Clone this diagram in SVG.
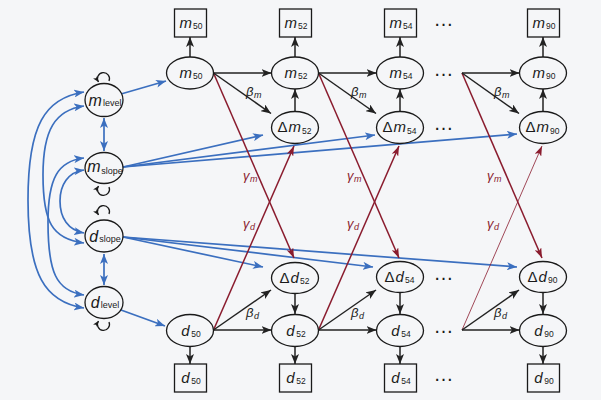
<svg xmlns="http://www.w3.org/2000/svg" width="601" height="400" viewBox="0 0 601 400">
<defs>
<style>
.bg{fill:#f5f6f8}
.nd{fill:#f5f6f8;stroke:#1a1a1a;stroke-width:1.3}
.t{font-family:"Liberation Sans",Arial,sans-serif;font-size:15px;fill:#1a1a1a}
.tl{font-size:16px}
.it{font-style:italic}
.sub{font-size:8.5px;font-style:normal}
.subl{font-size:9px;font-style:normal}
.k{stroke:#222;stroke-width:1.5;fill:none;marker-end:url(#ak)}
.b{stroke:#3b6fbf;stroke-width:1.7;fill:none;marker-end:url(#ab)}
.b2{stroke:#3b6fbf;stroke-width:1.7;fill:none;marker-end:url(#ab);marker-start:url(#ab)}
.r{stroke:#8a1c2e;stroke-width:1.5;fill:none;marker-end:url(#ar)}
.rt{stroke:#8a1c2e;stroke-width:0.8;fill:none;marker-end:url(#ar)}
.lp{stroke:#1a1a1a;stroke-width:1.3;fill:none;marker-end:url(#al)}
.g{font-family:"Liberation Sans",Arial,sans-serif;font-size:13px;font-style:italic;fill:#1a1a1a}
.gs{font-size:9px}
.gr{fill:#8a1c2e}
.dots{font-family:"Liberation Sans",Arial,sans-serif;font-size:20px;fill:#1a1a1a}
</style>
<marker id="ak" viewBox="0 0 10 8" refX="10" refY="4" markerWidth="10" markerHeight="8" orient="auto-start-reverse" markerUnits="userSpaceOnUse"><path d="M0,0 L10,4 L0,8 L2.5,4 z" fill="#222"/></marker>
<marker id="ab" viewBox="0 0 10 8" refX="10" refY="4" markerWidth="10" markerHeight="8" orient="auto-start-reverse" markerUnits="userSpaceOnUse"><path d="M0,0 L10,4 L0,8 L2.5,4 z" fill="#3b6fbf"/></marker>
<marker id="ar" viewBox="0 0 10 7" refX="10" refY="3.5" markerWidth="10" markerHeight="7" orient="auto-start-reverse" markerUnits="userSpaceOnUse"><path d="M0,0 L10,3.5 L0,7 L2.5,3.5 z" fill="#8a1c2e"/></marker>
<marker id="al" viewBox="0 0 6 5" refX="6" refY="2.5" markerWidth="6" markerHeight="5" orient="auto" markerUnits="userSpaceOnUse"><path d="M0,0 L6,2.5 L0,5 L1.5,2.5 z" fill="#1a1a1a"/></marker>
</defs>
<rect class="bg" x="0" y="0" width="601" height="400"/>

<g id="connectors">
<!-- self loops -->
<path class="lp" d="M109,81 A6,6 0 1 0 98.5,82"/>
<path class="lp" d="M109,187 A6,6 0 1 1 98.5,186"/>
<path class="lp" d="M109,214 A6,6 0 1 0 98.5,215"/>
<path class="lp" d="M109,322 A6,6 0 1 1 98.5,321"/>
<!-- vertical double arrows -->
<path class="b2" d="M104,118 L104,151"/>
<path class="b2" d="M104,254 L104,285"/>
<!-- curved covariances -->
<path class="b2" d="M84,92 C45,98 28,125 28,200 C28,275 45,302 84,308"/>
<path class="b2" d="M84,106 C55,110 43,130 43,175 C43,222 52,239 84,243"/>
<path class="b2" d="M84,158 C58,161 48,178 48,222 C48,272 56,291 84,295"/>
<path class="b2" d="M84,170 C68,172 60,185 60,201 C60,218 68,230 84,233"/>
<!-- blue factor loadings -->
<path class="b" d="M121,94 L166,81"/>
<path class="b" d="M123,167 L263,135"/>
<path class="b" d="M123,167 L375,135"/>
<path class="b" d="M123,167 L517,134"/>
<path class="b" d="M123,237 L263,267"/>
<path class="b" d="M123,237 L373,267"/>
<path class="b" d="M123,237 L517,267"/>
<path class="b" d="M121,310 L165,326"/>
<!-- red cross-lagged -->
<path class="r" d="M213.5,73 L294,258"/>
<path class="r" d="M213.5,330 L294,146"/>
<path class="r" d="M318.5,73 L399,258"/>
<path class="r" d="M318.5,330 L399,146"/>
<path class="r" d="M462,73 L542,258"/>
<path class="rt" d="M462,330 L542,146"/>
<!-- black: latent to observed -->
<path class="k" d="M190,57 L190,37"/>
<path class="k" d="M295,57 L295,37"/>
<path class="k" d="M400,57 L400,37"/>
<path class="k" d="M543,57 L543,37"/>
<path class="k" d="M190,346 L190,364"/>
<path class="k" d="M295,346 L295,364"/>
<path class="k" d="M400,346 L400,364"/>
<path class="k" d="M543,346 L543,364"/>
<!-- change to level -->
<path class="k" d="M295,111.5 L295,89"/>
<path class="k" d="M400,111.5 L400,89"/>
<path class="k" d="M543,111.5 L543,89"/>
<path class="k" d="M295,293 L295,314"/>
<path class="k" d="M400,293 L400,314"/>
<path class="k" d="M543,293 L543,314"/>
<!-- autoregressive -->
<path class="k" d="M213.5,73 L271.5,73"/>
<path class="k" d="M318.5,73 L376.5,73"/>
<path class="k" d="M462,73 L519.5,73"/>
<path class="k" d="M213.5,330 L271.5,330"/>
<path class="k" d="M318.5,330 L376.5,330"/>
<path class="k" d="M462,330 L519.5,330"/>
<!-- beta -->
<path class="k" d="M213.5,73 L271,113.5"/>
<path class="k" d="M318.5,73 L376,113.5"/>
<path class="k" d="M462,73 L519,113.5"/>
<path class="k" d="M213.5,330 L271,290"/>
<path class="k" d="M318.5,330 L376,290"/>
<path class="k" d="M462,330 L519,290"/>
<!-- coefficient labels -->
<text class="g" x="246" y="96">β<tspan class="gs" dx="0.5" dy="2">m</tspan></text>
<text class="g" x="351" y="96">β<tspan class="gs" dx="0.5" dy="2">m</tspan></text>
<text class="g" x="494" y="96">β<tspan class="gs" dx="0.5" dy="2">m</tspan></text>
<text class="g" x="246" y="317">β<tspan class="gs" dx="0.5" dy="2">d</tspan></text>
<text class="g" x="351" y="317">β<tspan class="gs" dx="0.5" dy="2">d</tspan></text>
<text class="g" x="494" y="317">β<tspan class="gs" dx="0.5" dy="2">d</tspan></text>
<text class="g gr" x="243" y="180">γ<tspan class="gs" dx="0.5" dy="2">m</tspan></text>
<text class="g gr" x="347" y="180">γ<tspan class="gs" dx="0.5" dy="2">m</tspan></text>
<text class="g gr" x="487" y="180">γ<tspan class="gs" dx="0.5" dy="2">m</tspan></text>
<text class="g gr" x="243" y="228">γ<tspan class="gs" dx="0.5" dy="2">d</tspan></text>
<text class="g gr" x="347" y="228">γ<tspan class="gs" dx="0.5" dy="2">d</tspan></text>
<text class="g gr" x="487" y="228">γ<tspan class="gs" dx="0.5" dy="2">d</tspan></text>
</g>

<!-- latent growth factors -->
<g id="m_level"><ellipse class="nd" cx="104" cy="100" rx="19" ry="16.5"/><text class="t tl" x="105" y="105.5" text-anchor="middle"><tspan class="it">m</tspan><tspan class="subl" dx="1" dy="0.5">level</tspan></text></g>
<g id="m_slope"><ellipse class="nd" cx="104" cy="168" rx="19" ry="15.5"/><text class="t tl" x="105" y="172" text-anchor="middle"><tspan class="it">m</tspan><tspan class="subl" dx="0.5" dy="2">slope</tspan></text></g>
<g id="d_slope"><ellipse class="nd" cx="104" cy="236" rx="19" ry="16"/><text class="t tl" x="105" y="241.5" text-anchor="middle"><tspan class="it">d</tspan><tspan class="subl" dx="1" dy="0">slope</tspan></text></g>
<g id="d_level"><ellipse class="nd" cx="104" cy="302.5" rx="19" ry="16"/><text class="t tl" x="105" y="308" text-anchor="middle"><tspan class="it">d</tspan><tspan class="subl" dx="1" dy="0">level</tspan></text></g>

<!-- observed m -->
<g id="obs_m50"><rect class="nd" x="174.5" y="9" width="32" height="28"/><text class="t" x="191" y="27.5" text-anchor="middle"><tspan class="it">m</tspan><tspan class="sub" dx="1" dy="1">50</tspan></text></g>
<g id="obs_m52"><rect class="nd" x="279.5" y="9" width="32" height="28"/><text class="t" x="296" y="27.5" text-anchor="middle"><tspan class="it">m</tspan><tspan class="sub" dx="1" dy="1">52</tspan></text></g>
<g id="obs_m54"><rect class="nd" x="384.5" y="9" width="32" height="28"/><text class="t" x="401" y="27.5" text-anchor="middle"><tspan class="it">m</tspan><tspan class="sub" dx="1" dy="1">54</tspan></text></g>
<g id="obs_m90"><rect class="nd" x="527.5" y="9" width="32" height="28"/><text class="t" x="544" y="27.5" text-anchor="middle"><tspan class="it">m</tspan><tspan class="sub" dx="1" dy="1">90</tspan></text></g>

<!-- latent m -->
<g id="m50"><ellipse class="nd" cx="190" cy="73" rx="23.5" ry="16"/><text class="t" x="191" y="77.5" text-anchor="middle"><tspan class="it">m</tspan><tspan class="sub" dx="1" dy="1.5">50</tspan></text></g>
<g id="m52"><ellipse class="nd" cx="295" cy="73" rx="23.5" ry="16"/><text class="t" x="296" y="77.5" text-anchor="middle"><tspan class="it">m</tspan><tspan class="sub" dx="1" dy="1.5">52</tspan></text></g>
<g id="m54"><ellipse class="nd" cx="400" cy="73" rx="23.5" ry="16"/><text class="t" x="401" y="77.5" text-anchor="middle"><tspan class="it">m</tspan><tspan class="sub" dx="1" dy="1.5">54</tspan></text></g>
<g id="m90"><ellipse class="nd" cx="543" cy="73" rx="23.5" ry="16"/><text class="t" x="544" y="77.5" text-anchor="middle"><tspan class="it">m</tspan><tspan class="sub" dx="1" dy="1.5">90</tspan></text></g>

<!-- change m -->
<g id="dm52"><ellipse class="nd" cx="295" cy="127.5" rx="23.5" ry="16"/><text class="t" x="294.5" y="132" text-anchor="middle">Δ<tspan class="it" dx="1">m</tspan><tspan class="sub" dx="1" dy="1.5">52</tspan></text></g>
<g id="dm54"><ellipse class="nd" cx="400" cy="127.5" rx="23.5" ry="16"/><text class="t" x="399.5" y="132" text-anchor="middle">Δ<tspan class="it" dx="1">m</tspan><tspan class="sub" dx="1" dy="1.5">54</tspan></text></g>
<g id="dm90"><ellipse class="nd" cx="543" cy="127.5" rx="23.5" ry="16"/><text class="t" x="542.5" y="132" text-anchor="middle">Δ<tspan class="it" dx="1">m</tspan><tspan class="sub" dx="1" dy="1.5">90</tspan></text></g>

<!-- change d -->
<g id="dd52"><ellipse class="nd" cx="295" cy="278" rx="23.5" ry="15.5"/><text class="t" x="294.5" y="283" text-anchor="middle">Δ<tspan class="it" dx="1">d</tspan><tspan class="sub" dx="1" dy="1">52</tspan></text></g>
<g id="dd54"><ellipse class="nd" cx="400" cy="277" rx="23.5" ry="15.5"/><text class="t" x="399.5" y="282" text-anchor="middle">Δ<tspan class="it" dx="1">d</tspan><tspan class="sub" dx="1" dy="1">54</tspan></text></g>
<g id="dd90"><ellipse class="nd" cx="543" cy="277" rx="23.5" ry="15.5"/><text class="t" x="542.5" y="282" text-anchor="middle">Δ<tspan class="it" dx="1">d</tspan><tspan class="sub" dx="1" dy="1">90</tspan></text></g>

<!-- latent d -->
<g id="d50"><ellipse class="nd" cx="190" cy="330.5" rx="23.5" ry="16"/><text class="t" x="191" y="335.5" text-anchor="middle"><tspan class="it">d</tspan><tspan class="sub" dx="1.5" dy="1">50</tspan></text></g>
<g id="d52"><ellipse class="nd" cx="295" cy="330.5" rx="23.5" ry="16"/><text class="t" x="296" y="335.5" text-anchor="middle"><tspan class="it">d</tspan><tspan class="sub" dx="1.5" dy="1">52</tspan></text></g>
<g id="d54"><ellipse class="nd" cx="400" cy="330.5" rx="23.5" ry="16"/><text class="t" x="401" y="335.5" text-anchor="middle"><tspan class="it">d</tspan><tspan class="sub" dx="1.5" dy="1">54</tspan></text></g>
<g id="d90"><ellipse class="nd" cx="543" cy="330.5" rx="23.5" ry="16"/><text class="t" x="544" y="335.5" text-anchor="middle"><tspan class="it">d</tspan><tspan class="sub" dx="1.5" dy="1">90</tspan></text></g>

<!-- observed d -->
<g id="obs_d50"><rect class="nd" x="174.5" y="364" width="32" height="28"/><text class="t" x="191" y="383" text-anchor="middle"><tspan class="it">d</tspan><tspan class="sub" dx="1.5" dy="1">50</tspan></text></g>
<g id="obs_d52"><rect class="nd" x="279.5" y="364" width="32" height="28"/><text class="t" x="296" y="383" text-anchor="middle"><tspan class="it">d</tspan><tspan class="sub" dx="1.5" dy="1">52</tspan></text></g>
<g id="obs_d54"><rect class="nd" x="384.5" y="364" width="32" height="28"/><text class="t" x="401" y="383" text-anchor="middle"><tspan class="it">d</tspan><tspan class="sub" dx="1.5" dy="1">54</tspan></text></g>
<g id="obs_d90"><rect class="nd" x="527.5" y="364" width="32" height="28"/><text class="t" x="544" y="383" text-anchor="middle"><tspan class="it">d</tspan><tspan class="sub" dx="1.5" dy="1">90</tspan></text></g>

<!-- ellipsis dots -->
<g id="dots">
<text class="dots" x="443.5" y="26" text-anchor="middle">…</text>
<text class="dots" x="443.5" y="75.5" text-anchor="middle">…</text>
<text class="dots" x="443.5" y="130" text-anchor="middle">…</text>
<text class="dots" x="443.5" y="279.5" text-anchor="middle">…</text>
<text class="dots" x="443.5" y="332.5" text-anchor="middle">…</text>
<text class="dots" x="443.5" y="380.5" text-anchor="middle">…</text>
</g>
</svg>
